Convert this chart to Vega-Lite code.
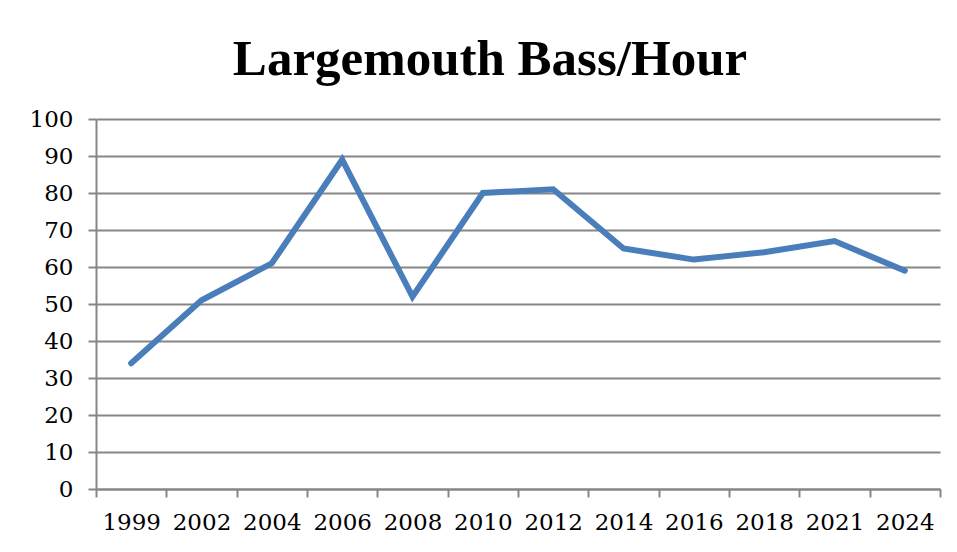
{
  "$schema": "https://vega.github.io/schema/vega-lite/v6.json",
  "width": 844,
  "height": 370,
  "autosize": {"type": "none"},
  "padding": {"left": 96, "top": 119, "right": 17, "bottom": 63},
  "background": "white",
  "title": {
    "text": "Largemouth Bass/Hour",
    "font": "Liberation Serif",
    "fontSize": 51,
    "fontWeight": "bold",
    "color": "black",
    "anchor": "middle",
    "frame": "group",
    "dx": -28,
    "offset": 22
  },
  "data": {
    "values": [
      {"year": "1999", "value": 34},
      {"year": "2002", "value": 51},
      {"year": "2004", "value": 61},
      {"year": "2006", "value": 89},
      {"year": "2008", "value": 52},
      {"year": "2010", "value": 80},
      {"year": "2012", "value": 81},
      {"year": "2014", "value": 65},
      {"year": "2016", "value": 62},
      {"year": "2018", "value": 64},
      {"year": "2021", "value": 67},
      {"year": "2024", "value": 59}
    ]
  },
  "mark": {"type": "line", "color": "#4A7EBB", "strokeWidth": 6, "strokeCap": "round", "strokeJoin": "miter"},
  "encoding": {
    "x": {
      "field": "year",
      "type": "ordinal",
      "sort": null,
      "scale": {"type": "band", "paddingInner": 0, "paddingOuter": 0},
      "axis": {
        "title": null,
        "labelAngle": 0,
        "labelFont": "DejaVu Serif",
        "labelFontSize": 23,
        "labelColor": "black",
        "labelPadding": 14,
        "tickBand": "extent",
        "tickSize": 8,
        "tickColor": "#868686",
        "tickWidth": 2,
        "domainColor": "#868686",
        "domainWidth": 2,
        "grid": false
      }
    },
    "y": {
      "field": "value",
      "type": "quantitative",
      "scale": {"domain": [0, 100], "nice": false},
      "axis": {
        "title": null,
        "values": [0, 10, 20, 30, 40, 50, 60, 70, 80, 90, 100],
        "labelFont": "DejaVu Serif",
        "labelFontSize": 23,
        "labelColor": "black",
        "labelPadding": 15,
        "tickSize": 8,
        "tickColor": "#868686",
        "tickWidth": 2,
        "domainColor": "#868686",
        "domainWidth": 2,
        "grid": true,
        "gridColor": "#868686",
        "gridWidth": 2
      }
    }
  },
  "config": {"view": {"stroke": null}}
}
